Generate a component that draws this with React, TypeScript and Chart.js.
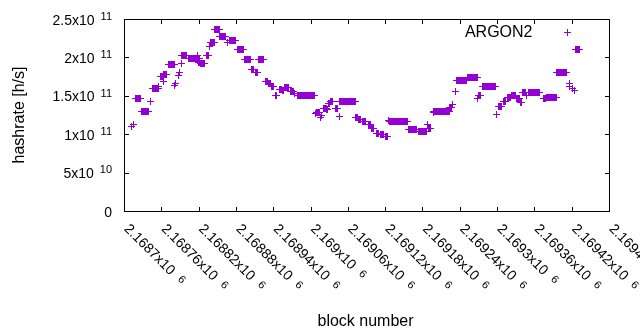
import React, { useEffect, useRef } from "react";
import { Chart, registerables } from "chart.js";

Chart.register(...registerables);

// ---- data ----
const BASE_BLOCK = 2168700;
const seriesLabel = "ARGON2";
// runs of consecutive blocks that share the same hashrate estimate (block offsets from BASE_BLOCK)
const runStart = [12, 15, 18, 28, 42, 46, 56, 58, 63, 64, 72, 82, 83, 87, 90, 92, 93, 103, 118, 120, 123, 132, 138, 139, 146, 153, 166, 169, 182, 193, 205, 211, 217, 227, 232, 237, 244, 250, 255, 258, 268, 274, 279, 308, 310, 316, 317, 321, 326, 329, 332, 340, 346, 347, 373, 377, 384, 393, 398, 406, 413, 420, 425, 427, 458, 473, 488, 490, 497, 498, 524, 528, 533, 535, 553, 568, 570, 576, 599, 603, 610, 617, 623, 632, 637, 641, 647, 650, 674, 679, 696, 716, 716, 721, 724, 726];
const runEnd = [12, 16, 26, 40, 43, 55, 56, 64, 68, 64, 81, 82, 83, 87, 90, 92, 101, 121, 118, 121, 129, 136, 138, 145, 153, 164, 167, 180, 192, 203, 209, 215, 224, 231, 236, 240, 246, 253, 257, 264, 273, 275, 307, 308, 314, 316, 318, 325, 327, 331, 336, 344, 346, 372, 376, 380, 388, 396, 401, 410, 418, 423, 426, 456, 471, 486, 488, 493, 497, 523, 527, 529, 533, 551, 569, 568, 574, 597, 599, 607, 614, 621, 629, 636, 639, 645, 648, 669, 678, 695, 712, 717, 716, 722, 725, 733];
// hashrate in units of 1e9 h/s
const runHash = [110, 112, 146, 130, 142, 160, 162, 175, 178, 169, 191, 163, 166, 176, 180, 192, 202, 199, 202, 193, 192, 203, 214, 219, 236, 227, 219, 222, 210, 197, 184, 180, 197, 169, 166, 162, 151, 158, 157, 161, 156, 153, 150, 127, 128, 122, 125, 134, 132, 140, 142, 133, 123, 142, 122, 119, 116, 112, 108, 101, 99, 97, 118, 117, 106, 104, 113, 107, 128, 130, 135, 139, 155, 170, 174, 146, 151, 162, 126, 136, 142, 148, 151, 146, 141, 154, 150, 154, 147, 148, 180, 166, 162, 159, 157, 210];

const xTickValues = [2168700, 2168760, 2168820, 2168880, 2168940, 2169000, 2169060, 2169120, 2169180, 2169240, 2169300, 2169360, 2169420, 2169480];
const xTickMain = ["2.1687x10", "2.16876x10", "2.16882x10", "2.16888x10", "2.16894x10", "2.169x10", "2.16906x10", "2.16912x10", "2.16918x10", "2.16924x10", "2.1693x10", "2.16936x10", "2.16942x10", "2.16948x10"];
const xTickExp = ["6", "6", "6", "6", "6", "6", "6", "6", "6", "6", "6", "6", "6", "6"];
const yTickValues = [0, 50, 100, 150, 200, 250];
const yTickMain = ["0", "5x10", "1x10", "1.5x10", "2x10", "2.5x10"];
const yTickExp = ["", "10", "11", "11", "11", "11"];
const xTitle = "block number";
const yTitle = "hashrate [h/s]";

const COLOR = "#9400d3";
const FONT = "'Liberation Sans', Arial, Helvetica, sans-serif";

function buildPoints() {
  const pts: { x: number; y: number }[] = [];
  for (let i = 0; i < runStart.length; i++) {
    for (let b = runStart[i]; b <= runEnd[i]; b++) {
      pts.push({ x: BASE_BLOCK + b, y: runHash[i] });
    }
  }
  return pts;
}

function makeCross(): HTMLCanvasElement {
  const c = document.createElement("canvas");
  c.width = 7;
  c.height = 7;
  const g = c.getContext("2d")!;
  g.fillStyle = COLOR;
  g.fillRect(0, 3, 7, 1);
  g.fillRect(3, 0, 1, 7);
  return c;
}

const gnuplotPlugin = {
  id: "gnuplotDecor",
  beforeDatasetsDraw(chart: any) {
    const ctx = chart.ctx as CanvasRenderingContext2D;
    const a = chart.chartArea;
    const xs = chart.scales.x;
    const ys = chart.scales.y;
    const L = Math.round(a.left) + 0.5;
    const R = Math.round(a.right) + 0.5;
    const T = Math.round(a.top) + 0.5;
    const B = Math.round(a.bottom) + 0.5;
    ctx.save();
    ctx.strokeStyle = "#000";
    ctx.lineWidth = 1;
    ctx.beginPath();
    ctx.rect(L, T, R - L, B - T);
    const tl = 4.5;
    xTickValues.forEach((v) => {
      const px = Math.round(xs.getPixelForValue(v)) + 0.5;
      ctx.moveTo(px, B);
      ctx.lineTo(px, B - tl);
      ctx.moveTo(px, T);
      ctx.lineTo(px, T + tl);
    });
    yTickValues.forEach((v) => {
      const py = Math.round(ys.getPixelForValue(v)) + 0.5;
      ctx.moveTo(L, py);
      ctx.lineTo(L + tl, py);
      ctx.moveTo(R, py);
      ctx.lineTo(R - tl, py);
    });
    ctx.stroke();
    ctx.restore();
    ctx.imageSmoothingEnabled = false;
  },
  afterDatasetsDraw(chart: any) {
    chart.ctx.imageSmoothingEnabled = true;
  },
  afterDraw(chart: any) {
    const ctx = chart.ctx as CanvasRenderingContext2D;
    const a = chart.chartArea;
    const xs = chart.scales.x;
    const ys = chart.scales.y;
    ctx.save();
    ctx.fillStyle = "#000";
    const mainFont = `14px ${FONT}`;
    const supFont = `11px ${FONT}`;
    const yRight = a.left - 12;
    yTickValues.forEach((v, i) => {
      const py = ys.getPixelForValue(v);
      ctx.textBaseline = "alphabetic";
      ctx.textAlign = "right";
      let right = yRight;
      if (yTickExp[i]) {
        ctx.font = supFont;
        ctx.fillText(yTickExp[i], right, py + 0.7);
        right -= ctx.measureText(yTickExp[i]).width + 6;
      }
      ctx.font = mainFont;
      ctx.fillText(yTickMain[i], right, py + 5.5);
    });
    xTickValues.forEach((v, i) => {
      const px = xs.getPixelForValue(v);
      ctx.save();
      ctx.translate(px + 3, a.bottom + 15);
      ctx.rotate(Math.PI / 4);
      ctx.textAlign = "left";
      ctx.textBaseline = "alphabetic";
      ctx.font = mainFont;
      ctx.fillText(xTickMain[i], 0, 5);
      const w = ctx.measureText(xTickMain[i]).width;
      ctx.font = supFont;
      ctx.fillText(xTickExp[i], w + 8, 2.5);
      ctx.restore();
    });
    ctx.font = `16px ${FONT}`;
    ctx.textAlign = "center";
    ctx.textBaseline = "alphabetic";
    ctx.fillText(xTitle, (a.left + a.right) / 2 - 1, 325.5);
    ctx.save();
    ctx.translate(24, (a.top + a.bottom) / 2);
    ctx.rotate(-Math.PI / 2);
    ctx.fillText(yTitle, 0, 0);
    ctx.restore();
    ctx.textAlign = "right";
    ctx.fillText(seriesLabel, 532.5, 37.3);
    ctx.fillStyle = COLOR;
    ctx.fillRect(564, 32, 7, 1);
    ctx.fillRect(567, 29, 1, 7);
    ctx.restore();
  },
};

export default function App() {
  const ref = useRef<HTMLCanvasElement | null>(null);
  useEffect(() => {
    if (!ref.current) return;
    const cross = makeCross();
    const chart = new Chart(ref.current, {
      type: "scatter",
      data: {
        datasets: [
          {
            label: seriesLabel,
            data: buildPoints(),
            pointStyle: cross,
            pointRadius: 3.5,
            pointHoverRadius: 3.5,
            borderColor: COLOR,
            backgroundColor: COLOR,
            borderWidth: 1,
            showLine: false,
          },
        ],
      },
      options: {
        responsive: false,
        animation: false,
        devicePixelRatio: 1,
        layout: { padding: { top: 19, right: 31, left: 0, bottom: 0 } },
        plugins: { legend: { display: false }, tooltip: { enabled: false } },
        events: [],
        scales: {
          x: {
            type: "linear",
            min: xTickValues[0],
            max: xTickValues[xTickValues.length - 1],
            ticks: { display: false },
            grid: { display: false },
            border: { display: false },
            afterFit: (s: any) => {
              s.height = 119;
            },
          },
          y: {
            min: yTickValues[0],
            max: yTickValues[yTickValues.length - 1],
            ticks: { display: false },
            grid: { display: false },
            border: { display: false },
            afterFit: (s: any) => {
              s.width = 124;
            },
          },
        },
      } as any,
      plugins: [gnuplotPlugin],
    });
    return () => chart.destroy();
  }, []);
  return (
    <div style={{ position: "fixed", left: 0, top: 0, width: 640, height: 330, background: "#fff" }}>
      <canvas ref={ref} width={640} height={330} style={{ display: "block", width: 640, height: 330 }} />
    </div>
  );
}
